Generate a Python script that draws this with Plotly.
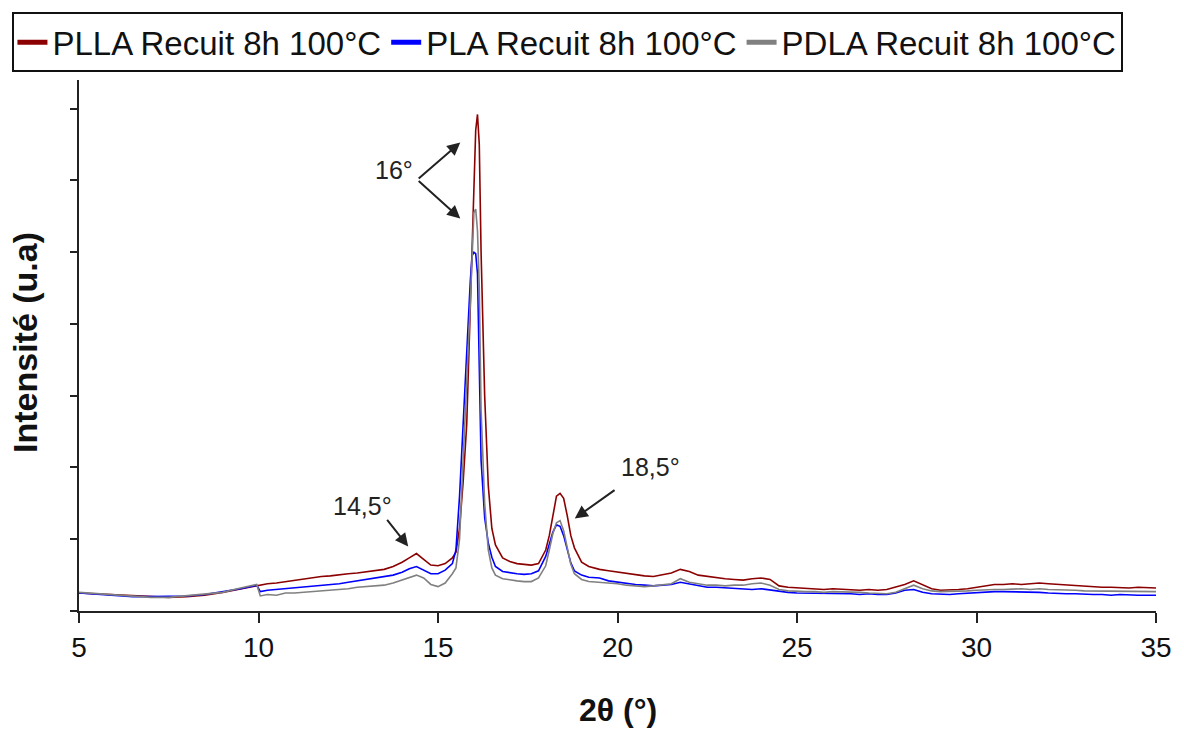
import plotly.graph_objects as go

# ---- data (2θ in degrees, intensity in arbitrary units = y-axis tick units) ----
x_a = [5.0, 5.5, 6.0, 6.5, 7.0, 7.5, 8.0, 8.5, 9.0, 9.5, 9.95]
x_b = [10.05, 10.25, 10.5, 10.75, 11.0, 11.25, 11.5, 11.75, 12.0, 12.25, 12.5, 12.75,
       13.0, 13.25, 13.5, 13.75, 14.0, 14.2, 14.4, 14.6, 14.8, 15.0, 15.2, 15.4]
x_c = [15.5, 15.6, 15.7, 15.8, 15.9, 15.95, 16.0, 16.05, 16.1, 16.15, 16.2, 16.3, 16.4,
       16.5, 16.6, 16.8, 17.0, 17.2, 17.4, 17.6, 17.8, 18.0, 18.1, 18.2, 18.3, 18.4, 18.5,
       18.6, 18.7, 18.8, 19.0, 19.2, 19.5]
x_d = [19.75, 20.0, 20.25, 20.5, 20.75, 21.0, 21.25, 21.5, 21.75, 22.0, 22.25, 22.5,
       22.75, 23.0, 23.25, 23.5, 23.75, 24.0, 24.25, 24.5, 24.75, 25.0, 25.25, 25.5,
       25.75, 26.0, 26.25, 26.5, 26.75, 27.0, 27.25, 27.5, 27.75, 28.0, 28.25, 28.5,
       28.75, 29.0, 29.25, 29.5, 29.75, 30.0, 30.25, 30.5, 30.75, 31.0, 31.25, 31.5,
       31.75, 32.0, 32.25, 32.5, 32.75, 33.0, 33.25, 33.5, 33.75, 34.0, 34.25, 34.5,
       34.75, 35.0]

plla_a = [0.25, 0.24, 0.22, 0.21, 0.2, 0.19, 0.2, 0.22, 0.26, 0.31, 0.35]
plla_b = [0.37, 0.38, 0.39, 0.41, 0.42, 0.44, 0.47, 0.48, 0.49, 0.51, 0.52, 0.53,
          0.55, 0.56, 0.58, 0.62, 0.68, 0.74, 0.8, 0.72, 0.64, 0.63, 0.66, 0.74]
plla_c = [0.82, 1.15, 1.8, 2.6, 4.3, 5.1, 6.1, 6.7, 6.92, 6.5, 5.0, 3.0, 1.75, 1.15, 0.92,
          0.74, 0.69, 0.66, 0.65, 0.64, 0.66, 0.85, 1.05, 1.35, 1.6, 1.64, 1.57, 1.33,
          1.05, 0.88, 0.68, 0.62, 0.58]
plla_d = [0.56, 0.54, 0.52, 0.51, 0.49, 0.48, 0.5, 0.53, 0.58, 0.55, 0.5, 0.48, 0.47,
          0.45, 0.44, 0.43, 0.45, 0.46, 0.44, 0.35, 0.33, 0.32, 0.31, 0.31, 0.3, 0.31,
          0.3, 0.3, 0.29, 0.3, 0.29, 0.3, 0.33, 0.37, 0.42, 0.36, 0.31, 0.29, 0.29, 0.3,
          0.31, 0.33, 0.35, 0.37, 0.37, 0.38, 0.37, 0.38, 0.39, 0.38, 0.37, 0.36, 0.35,
          0.34, 0.34, 0.33, 0.33, 0.32, 0.32, 0.33, 0.32, 0.32]

pla_a = [0.25, 0.23, 0.22, 0.2, 0.2, 0.2, 0.21, 0.23, 0.27, 0.31, 0.36]
pla_b = [0.27, 0.29, 0.3, 0.31, 0.32, 0.33, 0.34, 0.36, 0.37, 0.38, 0.4, 0.42,
         0.44, 0.46, 0.47, 0.5, 0.54, 0.59, 0.62, 0.57, 0.52, 0.52, 0.57, 0.66]
pla_c = [0.85, 1.6, 2.6, 3.7, 4.6, 4.95, 5.0, 4.98, 4.7, 3.4, 2.1, 1.3, 0.95, 0.75, 0.62,
         0.55, 0.53, 0.52, 0.51, 0.52, 0.56, 0.76, 0.93, 1.1, 1.2, 1.18, 1.05, 0.85,
         0.67, 0.56, 0.5, 0.47, 0.46]
pla_d = [0.42, 0.4, 0.38, 0.37, 0.36, 0.35, 0.36, 0.37, 0.4, 0.38, 0.35, 0.33, 0.33,
         0.32, 0.31, 0.31, 0.3, 0.31, 0.29, 0.27, 0.26, 0.25, 0.25, 0.25, 0.24, 0.24,
         0.25, 0.24, 0.23, 0.24, 0.23, 0.23, 0.25, 0.29, 0.3, 0.26, 0.24, 0.23, 0.23,
         0.24, 0.25, 0.26, 0.27, 0.27, 0.27, 0.27, 0.27, 0.26, 0.26, 0.25, 0.24, 0.24,
         0.24, 0.23, 0.23, 0.23, 0.22, 0.23, 0.22, 0.22, 0.22, 0.22]

pdla_a = [0.26, 0.24, 0.23, 0.21, 0.19, 0.19, 0.21, 0.23, 0.26, 0.32, 0.37]
pdla_b = [0.21, 0.23, 0.22, 0.25, 0.25, 0.26, 0.27, 0.28, 0.28, 0.3, 0.31, 0.33,
          0.34, 0.35, 0.36, 0.39, 0.43, 0.47, 0.5, 0.46, 0.37, 0.34, 0.39, 0.52]
pdla_c = [0.6, 1.0, 2.0, 3.2, 4.3, 4.9, 5.55, 5.6, 5.3, 4.5, 2.8, 1.5, 0.85, 0.6, 0.5,
          0.45, 0.43, 0.42, 0.41, 0.41, 0.46, 0.63, 0.85, 1.08, 1.23, 1.26, 1.12, 0.88,
          0.65, 0.52, 0.44, 0.41, 0.4]
pdla_d = [0.39, 0.38, 0.36, 0.35, 0.34, 0.35, 0.36, 0.38, 0.45, 0.4, 0.38, 0.36, 0.36,
          0.35, 0.36, 0.36, 0.38, 0.39, 0.36, 0.3, 0.28, 0.27, 0.27, 0.27, 0.26, 0.27,
          0.27, 0.26, 0.26, 0.25, 0.24, 0.24, 0.26, 0.31, 0.36, 0.31, 0.28, 0.27, 0.27,
          0.27, 0.28, 0.29, 0.3, 0.3, 0.3, 0.31, 0.31, 0.3, 0.31, 0.3, 0.3, 0.29, 0.29,
          0.28, 0.28, 0.27, 0.27, 0.27, 0.28, 0.27, 0.27, 0.27]

series_names = ["PLLA Recuit 8h 100°C", "PLA Recuit 8h 100°C", "PDLA Recuit 8h 100°C"]
series_colors = ["#8B0000", "#0000FF", "#808080"]

x_all = x_a + x_b + x_c + x_d
series_values = [
    plla_a + plla_b + plla_c + plla_d,
    pla_a + pla_b + pla_c + pla_d,
    pdla_a + pdla_b + pdla_c + pdla_d,
]

FONT = "Liberation Sans, Arial, sans-serif"

fig = go.Figure()
for name, color, vals in zip(series_names, series_colors, series_values):
    fig.add_trace(go.Scatter(x=x_all, y=vals, mode="lines", name=name,
                             line=dict(color=color, width=1.6),
                             showlegend=False, legendgroup=name))
# legend entries with thick short markers
for name, color in zip(series_names, series_colors):
    fig.add_trace(go.Scatter(x=[None], y=[None], mode="lines", name=name,
                             line=dict(color=color, width=5),
                             showlegend=True, legendgroup=name))

ann_font = dict(size=25, color="#222", family=FONT)
annotations = [
    dict(text="16°", x=13.78, y=6.15, xref="x", yref="y", showarrow=False, font=ann_font),
    dict(text="14,5°", x=12.9, y=1.47, xref="x", yref="y", showarrow=False, font=ann_font),
    dict(text="18,5°", x=20.93, y=2.01, xref="x", yref="y", showarrow=False, font=ann_font),
    # axis titles
    dict(text="<b>Intensité (u.a)</b>", x=-0.05, y=0.505, xref="paper", yref="paper",
         xanchor="center", yanchor="middle",
         showarrow=False, textangle=-90, font=dict(size=34, color="#111", family=FONT)),
    dict(text="<b>2θ (°)</b>", x=0.5, y=-0.186, xref="paper", yref="paper",
         xanchor="center", yanchor="middle",
         showarrow=False, font=dict(size=32, color="#111", family=FONT)),
]
arrows = [
    ((15.62, 6.53), (14.42, 6.01)),
    ((15.62, 5.47), (14.42, 6.01)),
    ((14.17, 0.9), (13.55, 1.29)),
    ((18.81, 1.29), (19.96, 1.70)),
]
for (hx, hy), (tx, ty) in arrows:
    annotations.append(dict(text="", x=hx, y=hy, ax=tx, ay=ty, xref="x", yref="y",
                            axref="x", ayref="y", showarrow=True, arrowhead=2,
                            arrowsize=1.3, arrowwidth=2, arrowcolor="#222",
                            standoff=0, startstandoff=0))

fig.update_layout(
    width=1184, height=729,
    margin=dict(l=78, r=22, t=78, b=118),
    paper_bgcolor="white", plot_bgcolor="white",
    font=dict(family=FONT, color="#111"),
    showlegend=True,
    legend=dict(orientation="h", x=-0.0618, y=1.1276, xanchor="left", yanchor="top",
                font=dict(size=33, family=FONT, color="#111"),
                bordercolor="#111", borderwidth=2, bgcolor="white",
                itemwidth=30, tracegroupgap=0),
    annotations=annotations,
)
fig.update_xaxes(range=[5, 35], tickvals=[5, 10, 15, 20, 25, 30, 35],
                 showline=True, linecolor="#222", linewidth=2, ticks="outside",
                 ticklen=10, tickwidth=2, tickcolor="#222", showgrid=False, zeroline=False,
                 tickfont=dict(size=28, family=FONT, color="#111"))
fig.update_yaxes(range=[0, 7.4], dtick=1, tick0=0, showticklabels=False,
                 showline=True, linecolor="#222", linewidth=2, ticks="outside",
                 ticklen=7, tickwidth=2, tickcolor="#222", showgrid=False, zeroline=False)

fig.write_html("out.html")
